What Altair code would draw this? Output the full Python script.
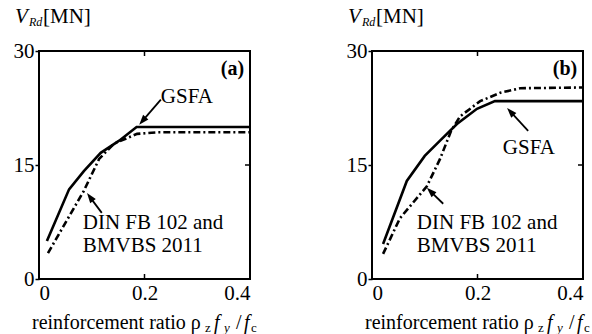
import math
import altair as alt
import pandas as pd

W, H = 211, 228
XMAX, YMAX = 0.4, 30
FONT = "Liberation Serif"

# ---- data ----
x_ticks = [0, 0.2, 0.4]
y_ticks = [0, 15, 30]

# panel (a)
x_gsfa_a = [0.015, 0.057, 0.085, 0.117, 0.152, 0.185, 0.4]
y_gsfa_a = [5.0, 11.8, 14.2, 16.6, 18.2, 20.0, 20.0]
x_din_a = [0.017, 0.085, 0.114, 0.142, 0.186, 0.224, 0.4]
y_din_a = [3.4, 11.6, 15.8, 17.8, 19.1, 19.3, 19.3]

# panel (b)
x_gsfa_b = [0.021, 0.066, 0.100, 0.129, 0.161, 0.199, 0.233, 0.4]
y_gsfa_b = [4.6, 12.9, 16.2, 18.2, 20.4, 22.4, 23.4, 23.4]
x_din_b = [0.021, 0.053, 0.104, 0.129, 0.150, 0.167, 0.205, 0.243, 0.281, 0.4]
y_din_b = [3.3, 8.0, 12.2, 15.8, 19.5, 21.4, 23.4, 24.5, 25.1, 25.2]

gsfa_label = ["GSFA"]
din_label = ["DIN FB 102 and", "BMVBS 2011"]
panel_tags = ["(a)", "(b)"]

# annotation anchors: label (x, y) and arrow tail->tip
gsfa_text_a = (0.231, 24.0)
gsfa_arrow_a = (0.231, 23.6, 0.190, 20.3)
din_text_a = (0.083, 7.4)
din_arrow_a = (0.119, 8.7, 0.091, 11.3)

gsfa_text_b = (0.248, 17.2)
gsfa_arrow_b = (0.296, 19.5, 0.256, 22.5)
din_text_b = (0.085, 7.4)
din_arrow_b = (0.135, 9.9, 0.104, 12.0)

tag_pos = (0.389, 27.6)


def arrow_frames(arrow, head_len=10.0):
    x0, y0, x1, y1 = arrow
    dxp = (x1 - x0) / XMAX * W
    dyp = -(y1 - y0) / YMAX * H
    L = math.hypot(dxp, dyp)
    ux, uy = dxp / L, dyp / L
    ang = math.degrees(math.atan2(ux, -uy)) % 360
    # arrowhead centre half a head length back from the tip
    cx = x1 - ux * head_len / 2 / W * XMAX
    cy = y1 + uy * head_len / 2 / H * YMAX
    shaft = pd.DataFrame({"x": [x0], "y": [y0], "x2": [cx], "y2": [cy]})
    head = pd.DataFrame({"x": [cx], "y": [cy], "ang": [ang]})
    return shaft, head


def panel(xg, yg, xd, yd, gsfa_t, gsfa_ar, din_t, din_ar, tag):
    xs = alt.Scale(domain=[0, XMAX], nice=False, zero=False)
    ys = alt.Scale(domain=[0, YMAX], nice=False)
    xax = alt.Axis(values=x_ticks, format="~g", title=None, tickSize=0,
                   labelPadding=3, domain=False, grid=False)
    yax = alt.Axis(values=y_ticks, title=None, tickSize=4, tickWidth=1.5,
                   tickColor="black", labelPadding=1, domain=False, grid=False)

    dg = pd.DataFrame({"x": xg, "y": yg})
    dd = pd.DataFrame({"x": xd, "y": yd})

    base_g = alt.Chart(dg).mark_line(color="black", strokeWidth=2.6).encode(
        x=alt.X("x:Q", scale=xs, axis=xax),
        y=alt.Y("y:Q", scale=ys, axis=yax),
    )
    line_d = alt.Chart(dd).mark_line(color="black", strokeWidth=2.6,
                                     strokeDash=[7, 3, 2, 3]).encode(
        x=alt.X("x:Q", scale=xs), y=alt.Y("y:Q", scale=ys))

    # inner ticks (bottom, top at x=0.2; right at y=15)
    tx = pd.DataFrame({"x": [x_ticks[1]]})
    ty = pd.DataFrame({"y": [y_ticks[1]]})
    tick_b = alt.Chart(tx).mark_rule(color="black", strokeWidth=1.5).encode(
        x=alt.X("x:Q", scale=xs), y=alt.value(H), y2=alt.value(H - 5))
    tick_t = alt.Chart(tx).mark_rule(color="black", strokeWidth=1.5).encode(
        x=alt.X("x:Q", scale=xs), y=alt.value(0), y2=alt.value(5))
    tick_r = alt.Chart(ty).mark_rule(color="black", strokeWidth=1.5).encode(
        y=alt.Y("y:Q", scale=ys), x=alt.value(W), x2=alt.value(W - 5))

    # annotation texts
    tg = pd.DataFrame({"x": [gsfa_t[0]], "y": [gsfa_t[1]], "t": gsfa_label})
    td = pd.DataFrame({"x": [din_t[0]] * 2,
                       "y": [din_t[1], din_t[1] - 3.1], "t": din_label})
    tt = pd.DataFrame({"x": [tag_pos[0]], "y": [tag_pos[1]], "t": [tag]})
    txt_style = dict(align="left", baseline="middle", font=FONT, fontSize=21,
                     color="black")
    text_g = alt.Chart(tg).mark_text(**txt_style).encode(
        x=alt.X("x:Q", scale=xs), y=alt.Y("y:Q", scale=ys), text="t:N")
    text_d = alt.Chart(td).mark_text(**txt_style).encode(
        x=alt.X("x:Q", scale=xs), y=alt.Y("y:Q", scale=ys), text="t:N")
    text_t = alt.Chart(tt).mark_text(align="right", baseline="middle", font=FONT,
                                     fontSize=20, fontWeight="bold",
                                     color="black").encode(
        x=alt.X("x:Q", scale=xs), y=alt.Y("y:Q", scale=ys), text="t:N")

    layers = [base_g, line_d, tick_b, tick_t, tick_r, text_g, text_d, text_t]

    for ar in (gsfa_ar, din_ar):
        shaft, head = arrow_frames(ar)
        layers.append(alt.Chart(shaft).mark_rule(color="black", strokeWidth=1.8).encode(
            x=alt.X("x:Q", scale=xs), y=alt.Y("y:Q", scale=ys),
            x2="x2:Q", y2="y2:Q"))
        layers.append(alt.Chart(head).mark_point(
            shape="M0,-1L-0.7,1L0.7,1Z", filled=True, color="black",
            opacity=1, size=100).encode(
            x=alt.X("x:Q", scale=xs), y=alt.Y("y:Q", scale=ys),
            angle=alt.Angle("ang:Q", scale=None)))

    # axis titles built from pieces (subscripts / italics)
    one = pd.DataFrame({"a": [0]})
    def piece(t, px, py, size=20, style="normal"):
        return alt.Chart(one).mark_text(
            text=t, align="left", baseline="middle", font=FONT, fontSize=size,
            fontStyle=style, color="black").encode(
            x=alt.value(px), y=alt.value(py))

    yt = -34
    layers += [
        piece("V", -24, yt, 21, "italic"),
        piece("Rd", -10, yt + 5, 12, "italic"),
        piece("[MN]", 4, yt, 21),
    ]
    xt = H + 44
    layers += [
        piece("reinforcement ratio ρ", -7, xt, 20),
        piece("z", 166, xt + 5, 13),
        piece("f", 175, xt, 20, "italic"),
        piece("y", 185, xt + 5, 13, "italic"),
        piece("/", 197, xt, 20),
        piece("f", 205, xt, 20, "italic"),
        piece("c", 212, xt + 5, 13),
    ]

    return alt.layer(*layers).properties(width=W, height=H)


pa = panel(x_gsfa_a, y_gsfa_a, x_din_a, y_din_a,
           gsfa_text_a, gsfa_arrow_a, din_text_a, din_arrow_a, panel_tags[0])
pb = panel(x_gsfa_b, y_gsfa_b, x_din_b, y_din_b,
           gsfa_text_b, gsfa_arrow_b, din_text_b, din_arrow_b, panel_tags[1])

chart = alt.hconcat(pa, pb, spacing=87).properties(
    padding={"left": 12, "top": 5, "right": 0, "bottom": 0},
    background="white",
).configure_view(
    stroke="black", strokeWidth=2
).configure_axis(
    labelFont=FONT, labelFontSize=21, labelColor="black"
)

chart.save("out.html", embed_options={"renderer": "svg", "actions": False})
